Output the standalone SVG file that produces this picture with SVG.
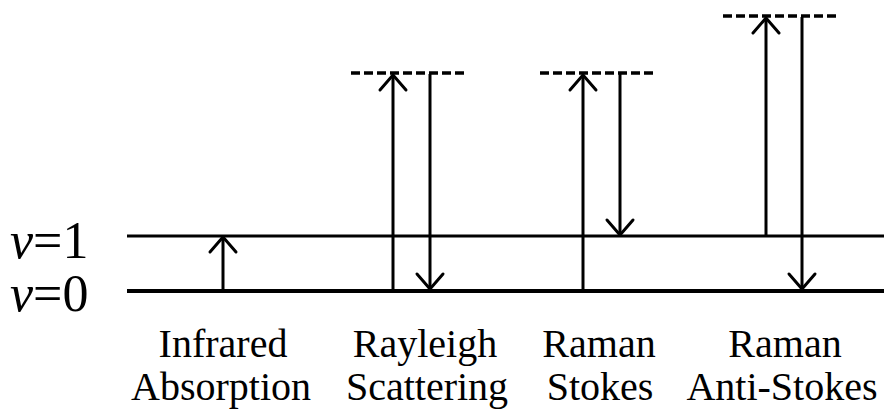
<svg xmlns="http://www.w3.org/2000/svg" width="884" height="415" viewBox="0 0 884 415">
<style>
.lvl{stroke:#000;fill:none}
.virt{stroke:#000;stroke-width:3.5;stroke-dasharray:9 4;fill:none}
.arr{stroke:#000;stroke-width:3;fill:none;marker-end:url(#head)}
.lab{font-size:40px;text-anchor:middle;font-family:'Liberation Serif','Times New Roman',Times,serif}
.vl{font-size:52px;font-family:'Liberation Serif','Times New Roman',Times,serif}
</style>
<defs>
<marker id="head" markerUnits="userSpaceOnUse" viewBox="-20 -20 40 40" markerWidth="40" markerHeight="40" refX="0" refY="0" orient="auto">
<path d="M-15,-13 L0,0 L-15,13" stroke="#000" stroke-width="3" fill="none" stroke-linecap="round" stroke-linejoin="round"/>
</marker>
</defs>
<g id="levels">
<line class="lvl" x1="127" y1="236" x2="884" y2="236" stroke-width="3"/>
<line class="lvl" x1="127" y1="291" x2="884" y2="291" stroke-width="4"/>
</g>
<g id="virtual-levels">
<line class="virt" x1="351" y1="73" x2="468" y2="73"/>
<line class="virt" x1="540" y1="73" x2="657" y2="73"/>
<line class="virt" x1="723" y1="16" x2="840" y2="16"/>
</g>
<g id="connectors">
<line class="arr" x1="223" y1="290" x2="223" y2="237"/>
<line class="arr" x1="393" y1="290" x2="393" y2="75"/>
<line class="arr" x1="430" y1="74" x2="430" y2="289"/>
<line class="arr" x1="583" y1="290" x2="583" y2="75"/>
<line class="arr" x1="620" y1="74" x2="620" y2="235"/>
<line class="arr" x1="766" y1="235" x2="766" y2="18"/>
<line class="arr" x1="802" y1="17" x2="802" y2="289"/>
</g>
<g id="level-labels">
<text class="vl" x="10" y="258"><tspan font-style="italic">v</tspan>=1</text>
<text class="vl" x="10" y="311"><tspan font-style="italic">v</tspan>=0</text>
</g>
<g id="infrared">
<text class="lab" x="223" y="357">Infrared</text>
<text class="lab" x="221" y="400">Absorption</text>
</g>
<g id="rayleigh">
<text class="lab" x="425" y="357">Rayleigh</text>
<text class="lab" x="427" y="400">Scattering</text>
</g>
<g id="stokes">
<text class="lab" x="599" y="357">Raman</text>
<text class="lab" x="600" y="400">Stokes</text>
</g>
<g id="anti-stokes">
<text class="lab" x="785" y="357">Raman</text>
<text class="lab" x="782" y="400">Anti-Stokes</text>
</g>
</svg>
